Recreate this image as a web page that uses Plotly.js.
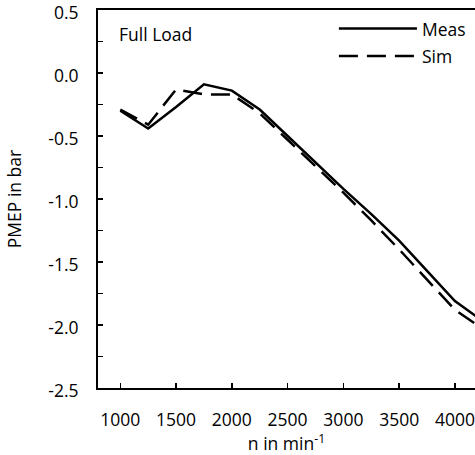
<!DOCTYPE html>
<html><head><meta charset="utf-8">
<script src="https://cdn.plot.ly/plotly-3.0.1.min.js"></script>
<style>html,body{margin:0;padding:0;background:#fff}#chart{width:475px;height:455px}</style>
</head><body><div id="chart"></div>
<script>
const speed = [1000, 1250, 1500, 1750, 2000, 2250, 2500, 2750, 3000, 3250, 3500, 3750, 4000, 4250];
const meas = [-0.30, -0.44, -0.27, -0.09, -0.14, -0.29, -0.50, -0.71, -0.92, -1.12, -1.33, -1.57, -1.81, -1.97];
const sim  = [-0.29, -0.41, -0.13, -0.17, -0.17, -0.32, -0.53, -0.74, -0.95, -1.17, -1.40, -1.64, -1.88, -2.03];
const xTicks = [1000, 1500, 2000, 2500, 3000, 3500, 4000];
const yTicks = [0.5, 0.0, -0.5, -1.0, -1.5, -2.0, -2.5];
const seriesNames = ['Meas', 'Sim'];

const font = {family: 'Open Sans, sans-serif', size: 17.5, color: '#000'};
const dashStyle = '19px,9px';
const traces = [
  {x: speed, y: meas, name: seriesNames[0], mode: 'lines', line: {color: '#000', width: 2.5}},
  {x: speed, y: sim, name: seriesNames[1], mode: 'lines', line: {color: '#000', width: 2.5, dash: dashStyle}}
];
const layout = {
  width: 475, height: 455,
  margin: {l: 98, r: 0, t: 10, b: 67},
  paper_bgcolor: '#fff', plot_bgcolor: '#fff',
  showlegend: false,
  font: font,
  xaxis: {
    range: [800, 4180], tickvals: xTicks, ticktext: xTicks.map(String),
    ticks: 'inside', ticklen: 5, tickwidth: 1.5, tickcolor: '#000',
    showline: true, linewidth: 2, linecolor: '#000', mirror: true,
    showgrid: false, zeroline: false, ticklabelstandoff: 15, ticklabeloverflow: 'allow',
    title: {text: 'n in min<sup>-1</sup>', font: font, standoff: 3}
  },
  yaxis: {
    range: [-2.5, 0.5], tickvals: yTicks, ticktext: yTicks.map(v => v.toFixed(1)),
    ticks: 'inside', ticklen: 5, tickwidth: 1.5, tickcolor: '#000',
    minor: {dtick: 0.25, tick0: 0, ticks: 'inside', ticklen: 5, tickwidth: 1.5, tickcolor: '#000'},
    showline: true, linewidth: 2, linecolor: '#000',
    showgrid: false, zeroline: false, ticklabelstandoff: 14, ticklabelshift: 3, ticklabeloverflow: 'allow',
    title: {text: 'PMEP in bar', font: font, standoff: 22}
  },
  shapes: [
    {type: 'line', xref: 'paper', yref: 'paper', x0: 0.639, x1: 0.846, y0: 0.951, y1: 0.951, line: {color: '#000', width: 2.5}},
    {type: 'line', xref: 'paper', yref: 'paper', x0: 0.639, x1: 0.846, y0: 0.878, y1: 0.878, line: {color: '#000', width: 2.5, dash: dashStyle}}
  ],
  annotations: [
    {text: 'Full Load', xref: 'paper', yref: 'paper', x: 0.05, y: 0.937, xanchor: 'left', yanchor: 'middle', showarrow: false, font: font},
    {text: seriesNames[0], xref: 'paper', yref: 'paper', x: 0.855, y: 0.951, xanchor: 'left', yanchor: 'middle', showarrow: false, font: font},
    {text: seriesNames[1], xref: 'paper', yref: 'paper', x: 0.855, y: 0.878, xanchor: 'left', yanchor: 'middle', showarrow: false, font: font}
  ]
};
Plotly.newPlot('chart', traces, layout, {staticPlot: true, displayModeBar: false});
</script></body></html>
